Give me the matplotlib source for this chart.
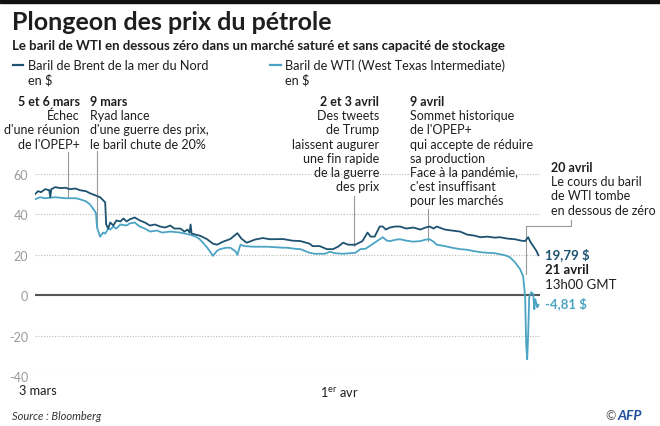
import matplotlib
matplotlib.use("Agg")
import matplotlib.pyplot as plt
from matplotlib.patches import Rectangle
from matplotlib.lines import Line2D

plt.rcParams['font.family'] = ['Lato', 'DejaVu Sans']
plt.rcParams['mathtext.fontset'] = 'custom'
plt.rcParams['mathtext.rm'] = 'Lato'

# jours depuis le 3 mars
brent_days = [0.0, 0.3, 0.6, 1.0, 1.4, 1.5, 1.6, 2.0, 2.5, 3.0, 3.4, 4.0, 4.4, 5.0, 5.4, 5.9,
              6.4, 6.9, 7.0, 7.2, 7.4, 7.7, 8.0, 8.4, 8.7, 9.0, 9.3, 9.8, 10.3, 10.8, 11.3,
              11.8, 12.3, 12.8, 13.3, 13.7, 14.3, 14.7, 15.0, 15.2, 15.3, 15.4, 16.2, 16.9,
              17.5, 17.9, 18.5, 19.2, 19.9, 20.3, 20.8, 21.1, 21.6, 22.4, 23.1, 24.4, 25.3,
              26.1, 27.0, 27.3, 28.0, 28.7, 29.3, 29.8, 30.3, 30.8, 31.5, 32.2, 32.7, 33.0,
              33.4, 33.9, 34.2, 34.5, 34.9, 35.4, 35.9, 36.5, 37.2, 37.9, 38.4, 38.8, 39.2,
              39.5, 40.3, 41.0, 41.8, 42.5, 43.2, 43.8, 44.5, 45.2, 45.7, 46.5, 47.2, 47.8,
              48.2, 48.5, 48.7, 48.9, 49.1, 49.3, 49.5]
brent = [50, 51.5, 51, 52.5, 52, 48.5, 52.5, 53.5, 53, 53.2, 52.5, 52.8, 52, 51.5, 50.5, 49.5,
         48.5, 46, 35, 33, 36, 34.5, 37, 36.5, 38, 36.5, 37.5, 38.5, 37, 36, 34.5,
         35, 34, 33.5, 34.5, 33, 33, 31.5, 32.5, 31, 35, 30.5, 29.5, 27.8,
         25.5, 25, 26.5, 27.8, 30.7, 28, 26, 26.5, 27.5, 28.3, 27.7, 27.8, 27,
         26.8, 25.5, 24.3, 24.3, 22.8, 22.8, 24, 26, 25, 25, 26.8, 31, 29,
         29, 34, 34, 32.5, 33.5, 34, 34, 33, 33.5, 32.5, 33.5, 34, 33,
         34, 32.5, 32, 31.5, 30, 29.5, 28.7, 29, 28.5, 28.7, 28, 27.7, 27,
         26.8, 28.7, 26.5, 25, 23.5, 22, 19.79]

wti_days = [0.0, 0.5, 1.0, 2.0, 3.0, 4.0, 4.4, 5.0, 5.4, 5.9, 6.0, 6.1, 6.4, 6.7, 6.9, 7.2,
            7.4, 7.7, 8.0, 8.4, 9.0, 9.3, 9.8, 10.3, 10.8, 11.3, 12.0, 12.5, 13.3, 14.3,
            15.2, 15.8, 16.2, 16.9, 17.5, 17.9, 18.2, 18.8, 19.2, 19.7, 19.9, 20.2, 20.6,
            21.5, 22.4, 22.8, 23.5, 24.4, 24.8, 25.5, 26.1, 27.0, 27.5, 28.0, 28.5, 29.0,
            29.5, 30.3, 31.0, 31.5, 32.0, 32.5, 32.9, 33.4, 33.9, 34.2, 34.6, 34.9, 35.5,
            35.9, 36.5, 37.2, 37.9, 38.4, 38.8, 39.2, 39.5, 40.3, 41.0, 41.8, 42.5, 43.2,
            43.8, 44.5, 45.2, 45.7, 46.2, 46.7, 47.2, 47.7, 48.0, 48.2, 48.3, 48.4, 48.5,
            48.6, 48.8, 49.0, 49.1, 49.2, 49.4, 49.5]
wti = [47.5, 48.5, 48, 48.5, 48, 48, 47.5, 46.5, 45, 41.5, 40.5, 33.5, 29, 31, 30.5, 33,
       32.5, 34, 33, 35, 34.5, 35.5, 36, 34, 33, 31.5, 32, 31, 31.5, 31,
       30, 29, 27.7, 23.8, 19.5, 22, 22.8, 23.5, 23.5, 21.8, 20, 25, 24.3,
       24, 24, 24, 23.8, 23.5, 23.5, 23, 22.8, 21, 20.5, 20.5, 20.5, 21.5,
       20.8, 20.5, 20.8, 21, 22.8, 23, 24.3, 26, 27.7, 28.7, 27, 26.8, 27.5,
       27.7, 27, 26.5, 26.8, 27.5, 27.7, 26.5, 25, 24.3, 23.5, 22.8, 22.5, 21.8,
       21.3, 21, 20.8, 20.3, 19.8, 18.8, 16.3, 12.9, 9.4, -1, -24, -31.7, -19,
       -1, 1.5, 0.5, -7, -2, -6, -4.81]

y_ticks = [60, 40, 20, 0, -20, -40]
x_ticks = [0.3, 29.9]
x_labels = ['3 mars', '1$^{\\rm er}$ avr']

BRENT_COL = '#1d5270'
WTI_COL = '#4ba4c3'
TXT = '#1e1e1e'

W, H = 660, 427
fig = plt.figure(figsize=(6.6, 4.27), dpi=100)


def fx(px):
    return px / W


def fy(py):
    return 1 - py / H


def block(x, y, lines, ha='left', size=9.0, step=14.2):
    for i, line in enumerate(lines):
        fig.text(fx(x), fy(y + i * step), line, ha=ha, va='center', fontsize=size,
                 color=TXT, fontweight='bold' if i == 0 else 'normal')


fig.patches.append(Rectangle((0, fy(4)), 1, 4 / H, transform=fig.transFigure,
                             color='#111111', zorder=5))

fig.text(fx(12), fy(22), 'Plongeon des prix du pétrole', fontsize=18, fontweight='bold',
         color=TXT, va='center')
fig.text(fx(12), fy(46), 'Le baril de WTI en dessous zéro dans un marché saturé et sans capacité de stockage',
         fontsize=9.5, fontweight='bold', color=TXT, va='center')

# légende
fig.lines.append(Line2D([fx(13), fx(23)], [fy(66), fy(66)], color=BRENT_COL, lw=1.6,
                        transform=fig.transFigure))
fig.text(fx(28), fy(66), 'Baril de Brent de la mer du Nord', color=TXT, fontsize=9.2, va='center')
fig.text(fx(28), fy(80), 'en $', color=TXT, fontsize=9.2, va='center')
fig.lines.append(Line2D([fx(270), fx(281)], [fy(66), fy(66)], color=WTI_COL, lw=1.6,
                        transform=fig.transFigure))
fig.text(fx(285), fy(66), 'Baril de WTI (West Texas Intermediate)', color=TXT, fontsize=9.2, va='center')
fig.text(fx(285), fy(80), 'en $', color=TXT, fontsize=9.2, va='center')

ax = fig.add_axes([fx(35), fy(377), (540 - 35) / W, (377 - 175) / H])
ax.set_xlim(0, 49.66)
ax.set_ylim(-40, 60)
for v in y_ticks:
    if v == 0:
        ax.axhline(v, color='#555555', lw=1.5, zorder=1)
    else:
        ax.axhline(v, color='#bbbbbb', lw=0.8, ls=(0, (1, 1.5)), zorder=1)

ax.plot(wti_days, wti, color=WTI_COL, lw=1.3, zorder=3)
ax.plot(brent_days, brent, color=BRENT_COL, lw=1.3, zorder=4)

ax.set_yticks(y_ticks)
ax.set_yticklabels([str(v) for v in y_ticks], color='#999999', fontsize=9)
ax.set_xticks(x_ticks)
ax.set_xticklabels(x_labels, color=TXT, fontsize=9.2)
ax.tick_params(length=0, pad=6)
ax.tick_params(axis='y', pad=5)
for s in ax.spines.values():
    s.set_visible(False)

# traits des annotations
LINE = '#999999'
for d, y0, y1 in [(3.2, 71, 48), (6.1, 71.4, 33.8), (31.4, 49.1, 24.4), (38.6, 42.7, 26.8)]:
    ax.plot([d, d], [y0, y1], color=LINE, lw=0.8, clip_on=False, zorder=2)
ax.plot([52.7, 52.7, 48.3, 48.3], [37.2, 34.3, 34.3, 10.5], color=LINE, lw=0.8,
        clip_on=False, zorder=2)

block(80, 102, ['5 et 6 mars', 'Échec', "d'une réunion", "de l'OPEP+"], ha='right')
block(90, 102, ['9 mars', 'Ryad lance', "d'une guerre des prix,", 'le baril chute de 20%'])
block(379, 102, ['2 et 3 avril', 'Des tweets', 'de Trump', 'laissent augurer',
                 'une fin rapide', 'de la guerre', 'des prix'], ha='right')
block(410, 102, ['9 avril', 'Sommet historique', "de l'OPEP+", 'qui accepte de réduire',
                 'sa production', 'Face à la pandémie,', "c'est insuffisant", 'pour les marchés'])
block(551, 168, ['20 avril', 'Le cours du baril', 'de WTI tombe', 'en dessous de zéro'])

fig.text(fx(545), fy(255), '19,79 $', color=BRENT_COL, fontsize=9.5, fontweight='bold', va='center')
fig.text(fx(545), fy(270), '21 avril', color=TXT, fontsize=9.5, fontweight='bold', va='center')
fig.text(fx(545), fy(285), '13h00 GMT', color=TXT, fontsize=9.5, va='center')
fig.text(fx(545), fy(304), '-4,81 $', color=WTI_COL, fontsize=9.5, fontweight='bold', va='center')

fig.text(fx(12), fy(417), 'Source : Bloomberg', fontsize=8, style='italic', color='#333333', va='center')
fig.text(fx(616), fy(416), '©', fontsize=9, color='#555555', va='center', ha='right')
fig.text(fx(618), fy(416), 'AFP', fontsize=10, color='#1f4e9c', fontweight='bold',
         style='italic', va='center')

fig.savefig('out.png', dpi=100)
